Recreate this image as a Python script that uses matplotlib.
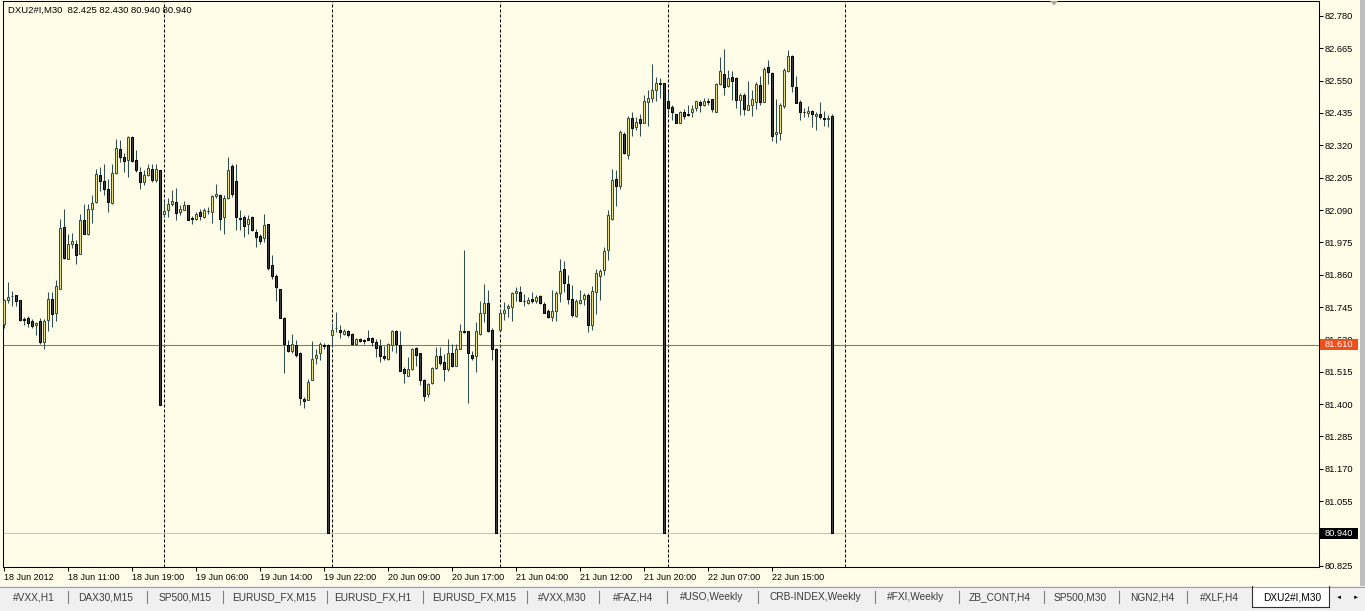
import numpy as np
import matplotlib
matplotlib.use("Agg")
import matplotlib.pyplot as plt
import matplotlib.transforms as mtransforms
from matplotlib.patches import Rectangle, Polygon
from matplotlib.lines import Line2D

plt.rcParams['font.family'] = ['Liberation Sans', 'DejaVu Sans']

symbol = "DXU2#I,M30"

# OHLC of the M30 bars
opens = [
    81.686, 81.771, 81.784, 81.786, 81.771, 81.701, 81.707, 81.697, 81.682, 81.696,
    81.620, 81.700, 81.775, 81.724, 81.810, 82.031, 81.917, 81.970, 81.970, 81.935,
    82.056, 82.004, 82.093, 82.119, 82.213, 82.192, 82.166, 82.115, 82.220, 82.306,
    82.277, 82.267, 82.348, 82.267, 82.226, 82.190, 82.214, 82.237, 82.196, 82.232,
    82.077, 82.091, 82.113, 82.119, 82.083, 82.091, 82.107, 82.061, 82.059, 82.082,
    82.065, 82.086, 82.083, 82.139, 82.143, 82.065, 82.131, 82.246, 82.192, 82.061,
    82.065, 82.042, 82.065, 82.011, 81.997, 81.992, 82.042, 81.893, 81.856, 81.810,
    81.707, 81.611, 81.588, 81.611, 81.583, 81.417, 81.415, 81.486, 81.563, 81.581,
    81.610, 81.611, 81.644, 81.669, 81.664, 81.650, 81.661, 81.650, 81.614, 81.633,
    81.626, 81.635, 81.635, 81.622, 81.608, 81.572, 81.561, 81.610, 81.661, 81.610,
    81.523, 81.501, 81.523, 81.600, 81.582, 81.487, 81.436, 81.474, 81.529, 81.571,
    81.550, 81.523, 81.582, 81.537, 81.596, 81.661, 81.658, 81.575, 81.570, 81.650,
    81.724, 81.761, 81.664, 81.596, 81.664, 81.723, 81.742, 81.745, 81.796, 81.800,
    81.768, 81.759, 81.774, 81.765, 81.784, 81.756, 81.732, 81.709, 81.730, 81.796,
    81.881, 81.826, 81.774, 81.713, 81.759, 81.774, 81.786, 81.682, 81.798, 81.855,
    81.875, 81.947, 82.059, 82.202, 82.176, 82.362, 82.287, 82.416, 82.386, 82.412,
    82.401, 82.473, 82.487, 82.516, 82.540, 82.540, 82.476, 82.455, 82.430, 82.401,
    82.438, 82.430, 82.437, 82.451, 82.475, 82.465, 82.476, 82.483, 82.439, 82.537,
    82.572, 82.532, 82.562, 82.558, 82.481, 82.499, 82.445, 82.463, 82.475, 82.534,
    82.475, 82.597, 82.576, 82.360, 82.365, 82.459, 82.585, 82.638, 82.526, 82.473,
    82.440, 82.436, 82.442, 82.426, 82.431, 82.417, 82.412, 82.425,
]
highs = [
    81.775, 81.834, 81.802, 81.789, 81.771, 81.709, 81.713, 81.702, 81.691, 81.707,
    81.701, 81.798, 81.797, 81.840, 82.059, 82.095, 82.006, 82.008, 81.982, 82.077,
    82.113, 82.113, 82.143, 82.237, 82.243, 82.255, 82.202, 82.255, 82.344, 82.338,
    82.291, 82.353, 82.353, 82.303, 82.243, 82.232, 82.255, 82.255, 82.255, 82.234,
    82.125, 82.131, 82.160, 82.169, 82.107, 82.122, 82.107, 82.068, 82.083, 82.095,
    82.097, 82.101, 82.143, 82.184, 82.148, 82.143, 82.279, 82.255, 82.255, 82.089,
    82.071, 82.071, 82.068, 82.024, 82.006, 82.077, 82.042, 81.929, 81.864, 81.810,
    81.709, 81.626, 81.650, 81.626, 81.586, 81.424, 81.490, 81.623, 81.597, 81.619,
    81.617, 81.615, 81.688, 81.727, 81.682, 81.667, 81.664, 81.652, 81.635, 81.634,
    81.632, 81.664, 81.638, 81.632, 81.632, 81.608, 81.616, 81.664, 81.664, 81.658,
    81.531, 81.567, 81.600, 81.602, 81.583, 81.489, 81.474, 81.533, 81.602, 81.602,
    81.578, 81.632, 81.614, 81.612, 81.685, 81.946, 81.661, 81.587, 81.691, 81.768,
    81.828, 81.806, 81.670, 81.600, 81.739, 81.762, 81.756, 81.800, 81.816, 81.819,
    81.792, 81.780, 81.798, 81.786, 81.786, 81.762, 81.739, 81.806, 81.802, 81.917,
    81.908, 81.860, 81.822, 81.774, 81.806, 81.794, 81.794, 81.818, 81.881, 81.881,
    81.958, 82.091, 82.237, 82.232, 82.376, 82.368, 82.424, 82.439, 82.419, 82.433,
    82.499, 82.516, 82.609, 82.564, 82.558, 82.543, 82.513, 82.463, 82.431, 82.442,
    82.448, 82.462, 82.463, 82.478, 82.481, 82.487, 82.490, 82.484, 82.540, 82.635,
    82.662, 82.588, 82.585, 82.562, 82.505, 82.505, 82.549, 82.516, 82.546, 82.566,
    82.600, 82.623, 82.582, 82.483, 82.469, 82.594, 82.659, 82.641, 82.566, 82.481,
    82.451, 82.459, 82.445, 82.439, 82.475, 82.442, 82.427, 82.430,
]
lows = [
    81.671, 81.759, 81.748, 81.748, 81.697, 81.682, 81.674, 81.671, 81.644, 81.614,
    81.595, 81.659, 81.674, 81.695, 81.808, 81.917, 81.917, 81.956, 81.899, 81.932,
    82.004, 82.002, 82.044, 82.116, 82.157, 82.143, 82.083, 82.113, 82.217, 82.261,
    82.226, 82.208, 82.261, 82.226, 82.165, 82.178, 82.211, 82.190, 82.190, 81.395,
    82.065, 82.065, 82.103, 82.053, 82.071, 82.089, 82.053, 82.042, 82.053, 82.056,
    82.063, 82.077, 82.044, 82.131, 82.018, 82.006, 82.128, 82.137, 82.018, 82.018,
    81.994, 82.004, 82.015, 81.959, 81.970, 81.976, 81.875, 81.846, 81.766, 81.706,
    81.510, 81.585, 81.581, 81.569, 81.398, 81.386, 81.413, 81.484, 81.543, 81.555,
    81.597, 80.940, 81.608, 81.656, 81.634, 81.647, 81.638, 81.610, 81.609, 81.622,
    81.612, 81.626, 81.605, 81.569, 81.549, 81.555, 81.558, 81.587, 81.581, 81.517,
    81.474, 81.499, 81.520, 81.537, 81.469, 81.410, 81.426, 81.472, 81.526, 81.540,
    81.483, 81.519, 81.531, 81.534, 81.594, 81.653, 81.403, 81.555, 81.513, 81.647,
    81.691, 81.656, 81.558, 80.940, 81.661, 81.699, 81.711, 81.697, 81.768, 81.766,
    81.748, 81.754, 81.759, 81.759, 81.756, 81.723, 81.707, 81.697, 81.695, 81.762,
    81.798, 81.754, 81.711, 81.710, 81.756, 81.751, 81.656, 81.664, 81.721, 81.771,
    81.858, 81.911, 82.054, 82.105, 82.166, 82.289, 82.270, 82.354, 82.374, 82.353,
    82.398, 82.389, 82.473, 82.477, 82.489, 80.940, 82.433, 82.410, 82.398, 82.399,
    82.413, 82.424, 82.422, 82.443, 82.439, 82.461, 82.463, 82.439, 82.437, 82.534,
    82.499, 82.528, 82.481, 82.454, 82.427, 82.427, 82.445, 82.425, 82.449, 82.463,
    82.473, 82.537, 82.335, 82.329, 82.338, 82.454, 82.582, 82.508, 82.469, 82.410,
    82.421, 82.419, 82.386, 82.376, 82.412, 82.388, 82.386, 80.940,
]
closes = [
    81.771, 81.780, 81.785, 81.766, 81.700, 81.700, 81.689, 81.676, 81.689, 81.619,
    81.697, 81.775, 81.721, 81.818, 82.027, 81.919, 81.970, 81.979, 81.931, 82.056,
    82.006, 82.093, 82.116, 82.217, 82.192, 82.163, 82.120, 82.220, 82.312, 82.277,
    82.265, 82.350, 82.265, 82.232, 82.190, 82.216, 82.241, 82.196, 82.237, 81.395,
    82.086, 82.113, 82.121, 82.080, 82.093, 82.107, 82.056, 82.058, 82.075, 82.068,
    82.091, 82.085, 82.139, 82.146, 82.059, 82.131, 82.232, 82.146, 82.065, 82.058,
    82.033, 82.059, 82.018, 81.994, 81.980, 82.035, 81.885, 81.855, 81.816, 81.707,
    81.614, 81.588, 81.614, 81.573, 81.422, 81.410, 81.480, 81.561, 81.575, 81.614,
    81.607, 80.940, 81.664, 81.672, 81.656, 81.661, 81.646, 81.614, 81.632, 81.625,
    81.625, 81.628, 81.620, 81.600, 81.572, 81.562, 81.614, 81.659, 81.614, 81.519,
    81.510, 81.523, 81.596, 81.575, 81.486, 81.428, 81.472, 81.529, 81.571, 81.545,
    81.523, 81.582, 81.534, 81.596, 81.658, 81.656, 81.582, 81.564, 81.658, 81.724,
    81.759, 81.659, 81.596, 80.940, 81.724, 81.735, 81.750, 81.796, 81.802, 81.768,
    81.767, 81.771, 81.766, 81.780, 81.759, 81.724, 81.709, 81.732, 81.794, 81.874,
    81.830, 81.774, 81.718, 81.768, 81.771, 81.786, 81.682, 81.801, 81.867, 81.872,
    81.943, 82.071, 82.196, 82.176, 82.366, 82.291, 82.416, 82.380, 82.404, 82.400,
    82.477, 82.490, 82.516, 82.540, 82.539, 80.940, 82.453, 82.437, 82.400, 82.437,
    82.426, 82.428, 82.449, 82.476, 82.463, 82.477, 82.474, 82.448, 82.537, 82.584,
    82.526, 82.558, 82.550, 82.481, 82.499, 82.449, 82.463, 82.483, 82.538, 82.475,
    82.590, 82.582, 82.354, 82.368, 82.463, 82.588, 82.638, 82.532, 82.471, 82.439,
    82.438, 82.442, 82.431, 82.431, 82.421, 82.414, 82.416, 80.940,
]

date_tick_bars = [0, 16, 32, 48, 64, 80, 96, 112, 128, 144, 160, 176, 192]
date_labels = ["18 Jun 2012", "18 Jun 11:00", "18 Jun 19:00", "19 Jun 06:00",
               "19 Jun 14:00", "19 Jun 22:00", "20 Jun 09:00", "20 Jun 17:00",
               "21 Jun 04:00", "21 Jun 12:00", "21 Jun 20:00", "22 Jun 07:00",
               "22 Jun 15:00"]
day_breaks = [40, 82, 124, 166, 210.25]

price_tick_start = 80.825
price_tick_step = 0.115
price_tick_count = 18

level_prices = [81.610, 80.940]
level_line_colors = ['#F04E1A', '#C4C4C4']
level_box_colors = ['#F04E1A', '#000000']

tab_names = ["#VXX,H1", "DAX30,M15", "SP500,M15", "EURUSD_FX,M15", "EURUSD_FX,H1",
             "EURUSD_FX,M15", "#VXX,M30", "#FAZ,H4", "#USO,Weekly", "CRB-INDEX,Weekly",
             "#FXI,Weekly", "ZB_CONT,H4", "SP500,M30", "NGN2,H4", "#XLF,H4", "DXU2#I,M30"]
tab_centers = [34, 106, 185, 274, 373, 474, 562, 633, 712, 815, 916, 1000, 1080,
               1152, 1219, 1292]
tab_seps = [68, 147, 223, 327, 423, 527, 599, 667, 758, 875, 959, 1044, 1119, 1187]

BG = '#FFFDE8'
BULL = '#F0E68C'
BEAR = '#404040'
WICK = '#2F4F4F'
LW = 0.75

W, H = 1365, 611
fig = plt.figure(figsize=(W / 100, H / 100), dpi=100, facecolor=BG)


def fx(p):
    return p / W


def fy(p):
    return 1 - p / H


ax = fig.add_axes([fx(3), fy(567), fx(1318.5) - fx(3), fy(1) - fy(567)])
ax.set_facecolor(BG)

o = np.array(opens)
h = np.array(highs)
l = np.array(lows)
c = np.array(closes)
x = np.arange(len(o))
up = c >= o
lo = np.minimum(o, c)
ht = np.maximum(np.abs(c - o), 0.0008)

ax.vlines(x, l, h, color=WICK, lw=LW, zorder=2)
ax.bar(x[up], ht[up], bottom=lo[up], width=0.58, color=BULL,
       edgecolor=WICK, linewidth=LW, zorder=3)
ax.bar(x[~up], ht[~up], bottom=lo[~up], width=0.58, color=BEAR,
       edgecolor='black', linewidth=LW, zorder=3)

for b in day_breaks:
    ax.axvline(b, color='black', lw=LW, dashes=(2.9, 1.9), zorder=1)

for lev, col in zip(level_prices, level_line_colors):
    ax.axhline(lev, color=col, lw=LW, zorder=1)

ax.set_xlim(-0.25, 328.625)
ax.set_ylim(80.8204, 82.8333)

yt = price_tick_start + price_tick_step * np.arange(price_tick_count)
ax.set_yticks(yt)
ax.set_yticklabels([f"{v:.3f}" for v in yt])
ax.yaxis.tick_right()
ax.tick_params(axis='y', direction='out', length=2.9, width=LW, pad=1.8,
               labelsize=6.7, colors='black')

ax.set_xticks(date_tick_bars)
ax.set_xticklabels(date_labels)
for t in ax.get_xticklabels():
    t.set_ha('left')
ax.tick_params(axis='x', direction='out', length=2.9, width=LW, pad=1.2,
               labelsize=6.5, colors='black')

for s in ax.spines.values():
    s.set_linewidth(LW)
    s.set_color('black')

# price labels on the scale
trans = mtransforms.blended_transform_factory(ax.transAxes, ax.transData)
hh = 5.5 / 281.2
for lev, col in zip(level_prices, level_box_colors):
    ax.add_patch(Rectangle((1.0012, lev - hh), 0.0285, 2 * hh, transform=trans,
                           facecolor=col, edgecolor='none', clip_on=False, zorder=5))
    ax.text(1.0048, lev, f"{lev:.3f}", transform=trans, color='white', size=6.7,
            va='center', ha='left', clip_on=False, zorder=6)

fig.text(fx(8), fy(10), f"{symbol}  {o[-1]:.3f} {h[-1]:.3f} {l[-1]:.3f} {c[-1]:.3f}",
         size=6.8, va='center', ha='left', color='black')

# chart shift marker
fig.add_artist(Polygon([(fx(1050), fy(1)), (fx(1058), fy(1)), (fx(1054), fy(5.5))],
                       closed=True, transform=fig.transFigure,
                       facecolor='#A8A8A8', edgecolor='none'))

# right border strip
fig.add_artist(Rectangle((fx(1360), fy(586)), fx(5), fy(0) - fy(586),
                         transform=fig.transFigure, facecolor='#BDBDBD', edgecolor='none'))

# tab bar
fig.add_artist(Rectangle((0, 0), 1, fy(586), transform=fig.transFigure,
                         facecolor='#F0F0F0', edgecolor='none'))
fig.add_artist(Line2D([0, 1], [fy(586.5), fy(586.5)], transform=fig.transFigure,
                      color='#A0A0A0', lw=0.8))
fig.add_artist(Rectangle((fx(1252), fy(607)), fx(1329) - fx(1252), fy(586) - fy(607),
                         transform=fig.transFigure, facecolor='white', edgecolor='none'))
for xs, ys in [([1252, 1252], [586, 607]), ([1329, 1329], [586, 607]),
               ([1252, 1329], [607, 607])]:
    fig.add_artist(Line2D([fx(v) for v in xs], [fy(v) for v in ys],
                          transform=fig.transFigure, color='#303030', lw=0.8))
for name, cx in zip(tab_names, tab_centers):
    active = name == symbol and cx == tab_centers[-1]
    fig.text(fx(cx), fy(597), name, size=7.3, ha='center', va='center',
             color='black' if active else '#3C3C3C')
for sx in tab_seps:
    fig.add_artist(Line2D([fx(sx), fx(sx)], [fy(591), fy(603)], transform=fig.transFigure,
                          color='#808080', lw=0.8))
fig.text(fx(1339), fy(597), "\u25c4", size=4.5, ha='center', va='center', color='black')
fig.text(fx(1356), fy(597), "\u25ba", size=4.5, ha='center', va='center', color='black')

fig.savefig("out.png", dpi=100, facecolor=BG)
